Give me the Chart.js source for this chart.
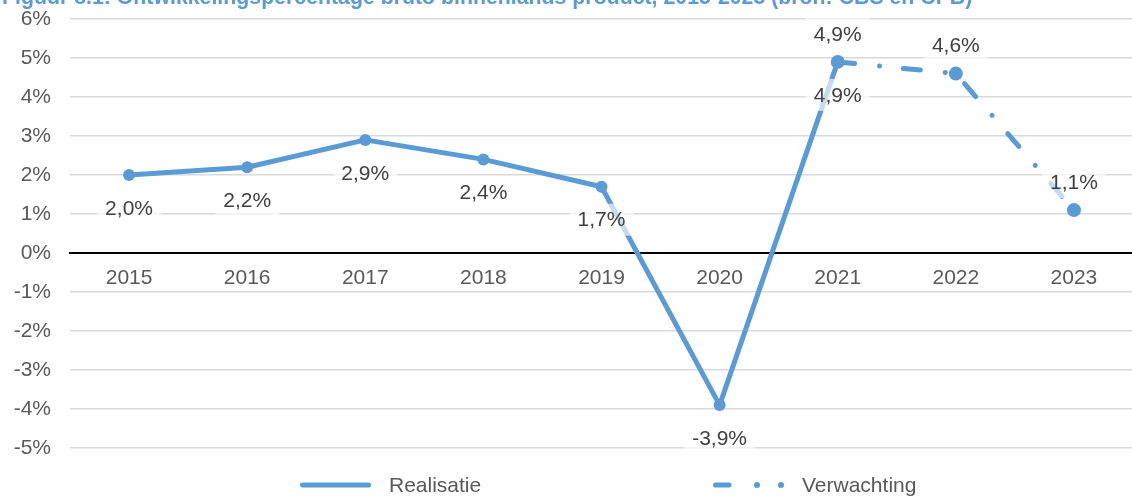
<!DOCTYPE html>
<html>
<head>
<meta charset="utf-8">
<script src="https://cdn.jsdelivr.net/npm/chart.js@4.4.1/dist/chart.umd.min.js"></script>
<style>
html,body{margin:0;padding:0;background:#fff;overflow:hidden;width:1132px;height:496px;}
#wrap{position:absolute;left:0;top:0;width:1140px;height:496px;}
</style>
</head>
<body>
<div id="wrap"><canvas id="c" width="1140" height="496"></canvas></div>
<script>
// ---- data ----
const chartTitle = "Figuur 8.1: Ontwikkelingspercentage bruto binnenlands product, 2015-2023 (bron: CBS en CPB)";
const categories = ["2015", "2016", "2017", "2018", "2019", "2020", "2021", "2022", "2023"];
const seriesNames = ["Realisatie", "Verwachting"];
const realisatie = [2.0, 2.2, 2.9, 2.4, 1.7, -3.9, 4.9, null, null];
const verwachting = [null, null, null, null, null, null, 4.9, 4.6, 1.1];
const yMin = -5, yMax = 6, yStep = 1;

// ---- styles ----
const BLUE = '#5B9BD5';
const FONT_FAMILY = '"Liberation Sans", Arial, Helvetica, sans-serif';
const FONT_SIZE = 21;
const TICK_COLOR = '#595959';
const LABEL_COLOR = '#404040';

function fmt(v) { return v.toFixed(1).replace('.', ',') + '%'; }

const titlePlugin = {
  id: 'clippedTitle',
  beforeDraw(chart) {
    const ctx = chart.ctx;
    ctx.save();
    ctx.font = 'bold 21.3px ' + FONT_FAMILY;
    ctx.fillStyle = BLUE;
    ctx.textAlign = 'left';
    ctx.textBaseline = 'alphabetic';
    ctx.fillText(chartTitle, 2, 4);
    ctx.restore();
  }
};

const valueLabelPlugin = {
  id: 'valueLabels',
  afterDatasetsDraw(chart) {
    const ctx = chart.ctx;
    ctx.save();
    ctx.font = FONT_SIZE + 'px ' + FONT_FAMILY;
    ctx.textAlign = 'center';
    ctx.textBaseline = 'middle';
    chart.data.datasets.forEach((ds, di) => {
      const meta = chart.getDatasetMeta(di);
      ds.data.forEach((v, i) => {
        if (v === null || v === undefined) return;
        const pt = meta.data[i];
        const txt = fmt(v);
        const y = ds.labelPos === 'above' ? pt.y - 28 : pt.y + 33;
        const w = ctx.measureText(txt).width + 16;
        ctx.fillStyle = 'rgba(255,255,255,0.65)';
        ctx.fillRect(pt.x - w / 2, y - 16, w, 32);
        ctx.fillStyle = LABEL_COLOR;
        ctx.fillText(txt, pt.x, y + 1);
      });
    });
    ctx.restore();
  }
};

const legendPlugin = {
  id: 'customLegend',
  afterDraw(chart) {
    const ctx = chart.ctx;
    const y = 485;
    ctx.save();
    ctx.strokeStyle = BLUE;
    ctx.fillStyle = BLUE;
    ctx.lineWidth = 5;
    ctx.lineCap = 'round';
    // Realisatie sample
    ctx.beginPath();
    ctx.moveTo(302.5, y); ctx.lineTo(368.5, y); ctx.stroke();
    // Verwachting sample: dash + two dots
    ctx.beginPath();
    ctx.moveTo(715.5, y); ctx.lineTo(729, y); ctx.stroke();
    ctx.beginPath(); ctx.arc(757, y, 3, 0, Math.PI * 2); ctx.fill();
    ctx.beginPath(); ctx.arc(781, y, 3, 0, Math.PI * 2); ctx.fill();
    ctx.font = FONT_SIZE + 'px ' + FONT_FAMILY;
    ctx.fillStyle = TICK_COLOR;
    ctx.textAlign = 'left';
    ctx.textBaseline = 'middle';
    ctx.fillText(seriesNames[0], 389, y + 1);
    ctx.fillText(seriesNames[1], 802, y + 1);
    ctx.restore();
  }
};

new Chart(document.getElementById('c'), {
  type: 'line',
  data: {
    labels: categories,
    datasets: [
      {
        label: seriesNames[0],
        data: realisatie,
        borderColor: BLUE,
        backgroundColor: BLUE,
        borderWidth: 5,
        borderCapStyle: 'round',
        borderJoinStyle: 'round',
        pointRadius: 6,
        pointBackgroundColor: BLUE,
        pointBorderWidth: 0,
        tension: 0,
        spanGaps: false,
        labelPos: 'below',
        order: 2
      },
      {
        label: seriesNames[1],
        data: verwachting,
        borderColor: BLUE,
        backgroundColor: BLUE,
        borderWidth: 5,
        borderDash: [17, 25, 0.01, 24],
        borderCapStyle: 'round',
        borderJoinStyle: 'round',
        pointRadius: 7,
        pointBackgroundColor: BLUE,
        pointBorderWidth: 0,
        tension: 0,
        spanGaps: false,
        labelPos: 'above',
        order: 1
      }
    ]
  },
  options: {
    responsive: false,
    animation: false,
    layout: { padding: { top: 19, bottom: 48, left: 0, right: 2 } },
    plugins: {
      legend: { display: false },
      tooltip: { enabled: false },
      title: { display: false }
    },
    scales: {
      x: {
        position: { y: 0 },
        offset: true,
        grid: { display: false, drawTicks: false },
        border: { display: true, color: '#000000', width: 2 },
        ticks: {
          font: { family: FONT_FAMILY, size: FONT_SIZE },
          color: TICK_COLOR,
          padding: 13,
          maxRotation: 0,
          autoSkip: false
        },
        afterFit(scale) { scale.height = 0; }
      },
      y: {
        min: yMin,
        max: yMax,
        ticks: {
          stepSize: yStep,
          font: { family: FONT_FAMILY, size: FONT_SIZE },
          color: TICK_COLOR,
          padding: 19,
          callback: (v) => v + '%'
        },
        grid: {
          drawTicks: false,
          lineWidth: 1.5,
          color: (c) => (c.tick && c.tick.value === 0) ? 'rgba(0,0,0,0)' : '#d9d9d9'
        },
        border: { display: false },
        afterFit(scale) {
          scale.width = 70;
          scale.paddingTop = 0;
          scale.paddingBottom = 0;
        }
      }
    }
  },
  plugins: [titlePlugin, valueLabelPlugin, legendPlugin]
});
</script>
</body>
</html>
